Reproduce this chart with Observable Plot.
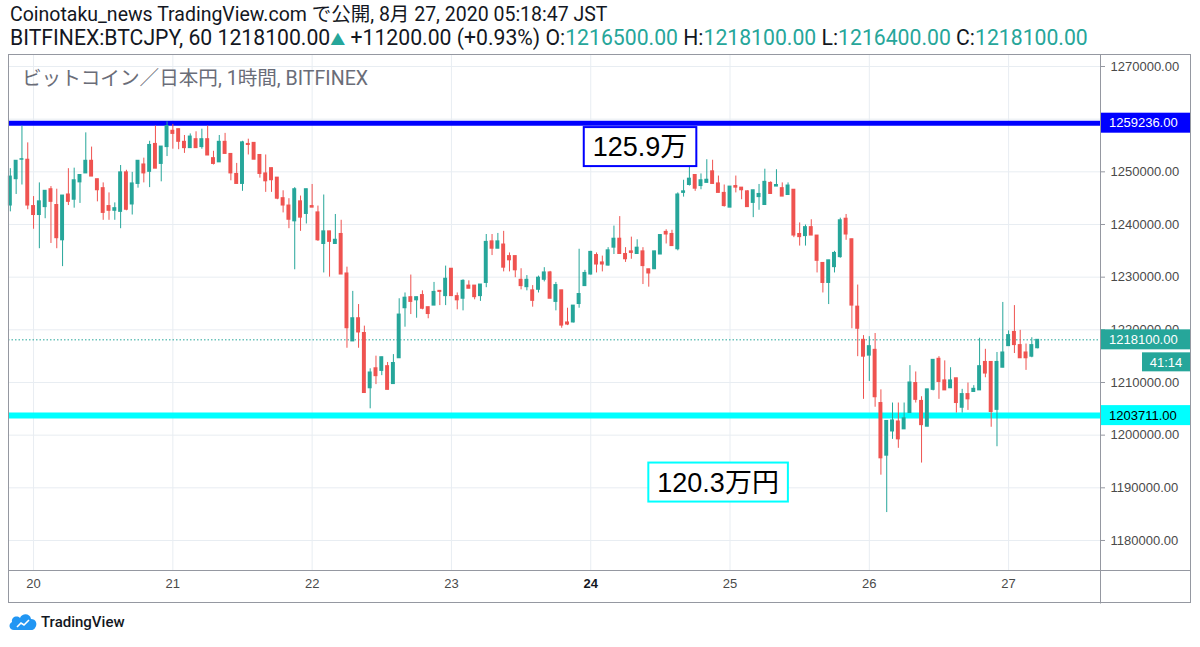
<!DOCTYPE html>
<html><head><meta charset="utf-8">
<script src="https://cdn.jsdelivr.net/npm/d3@7"></script>
<script src="https://cdn.jsdelivr.net/npm/@observablehq/plot@0.6"></script>
<style>
body{margin:0;background:#fff;}
#wrap{position:relative;width:1200px;height:647px;overflow:hidden;background:#fff}
#chart{position:absolute;left:0;top:0}
.hdr{position:absolute;left:10px;font-family:Roboto,"Noto Sans CJK JP",sans-serif;color:#131722;white-space:nowrap;line-height:24px}
.g{color:#26a69a}
#wm{position:absolute;left:22px;top:62px;font-family:Roboto,"Noto Sans CJK JP",sans-serif;font-size:19.6px;color:#6a6d78;white-space:nowrap}
#logo{position:absolute;left:8px;top:612px;display:flex;align-items:center;font-family:Roboto,"Noto Sans",sans-serif;font-size:15px;color:#131722;font-weight:500}
</style></head>
<body><div id="wrap">
<div id="chart"></div>
<div class="hdr" id="h1" style="top:3px;font-size:19.5px"></div>
<div class="hdr" id="h2" style="top:26px;font-size:21.2px"></div>
<div id="wm"></div>
<div id="logo"><svg width="30" height="20" viewBox="0 0 30 20"><path d="M6 18 C1 18 0 12 4 10 C3 5 9 3 12 6 C14 1 22 1 23 7 C28 7 30 12 27 16 C26 17.5 25 18 23 18 Z" fill="#2196f3"/><path d="M9 15 L13 11 L16 13 L21 8" stroke="#fff" stroke-width="1.6" fill="none"/></svg><span style="margin-left:3px">TradingView</span></div>
</div>
<script>
// ---- data (BTC/JPY hourly, JST wall-clock) ----
const firstCandle = Date.UTC(2020, 7, 19, 20);
const open = [
1243600,1248600,1252300,1252300,1243500,1241800,1243300,1246700,1243700,1237000,
1245700,1244700,1248000,1249700,1252100,1248600,1246900,1243500,1242600,1242400,
1249900,1243800,1247700,1251400,1250000,1255300,1251500,1254700,1257800,1258100,
1255700,1254500,1256200,1254700,1256200,1252600,1251800,1255700,1253400,1249600,
1247700,1255300,1255500,1253200,1249700,1250700,1248900,1245000,1243600,1240600,
1244400,1242000,1243500,1242300,1236300,1238700,1236300,1238200,1230700,1217800,
1222200,1219400,1208900,1212700,1212200,1213100,1209700,1214600,1224100,1226200,
1225600,1226600,1224300,1224600,1227400,1226400,1231600,1226400,1225900,1228400,
1228400,1226400,1228900,1236800,1235400,1236200,1234000,1234000,1229500,1228100,
1227500,1227600,1229500,1230900,1225300,1227500,1221400,1221400,1224900,1228300,
1230500,1234200,1232800,1232200,1235600,1237300,1234400,1234900,1234400,1234900,
1231500,1231500,1234300,1238600,1238200,1235300,1246000,1247500,1249400,1247300,
1247900,1250100,1247800,1246000,1243200,1247300,1247000,1246300,1244100,1245200,
1243700,1247900,1247200,1246900,1245600,1246600,1238200,1237800,1239500,1237900,
1232700,1228900,1231900,1233800,1241100,1237200,1224400,1218100,1215100,1216200,
1206100,1196100,1200700,1202600,1201100,1204200,1209900,1206500,1201600,1208600,
1214500,1210400,1208900,1210800,1205200,1207800,1208200,1208500,1213900,1213900,
1204800,1212800,1216900,1219600,1217100,1215700,1214900,1216500];
const high = [
1250600,1252100,1258700,1255500,1245300,1247900,1246400,1247200,1246700,1245500,
1250600,1250700,1249400,1257400,1254700,1248600,1247900,1246000,1244100,1251200,
1250300,1249900,1252100,1252600,1255800,1258700,1254800,1259500,1259000,1258100,
1256900,1257200,1257600,1258100,1258700,1253900,1256900,1257300,1253400,1251600,
1255800,1256200,1255500,1253200,1253200,1250700,1248900,1246400,1244900,1247000,
1245400,1246700,1247600,1243500,1245600,1238700,1241900,1240800,1231900,1227300,
1224800,1220700,1212600,1215000,1214800,1213800,1215300,1225900,1227000,1230400,
1226200,1227400,1224300,1229000,1227400,1232100,1231600,1227000,1229500,1229300,
1228400,1228600,1238100,1238100,1238300,1238700,1234600,1234000,1231600,1230300,
1228400,1230200,1231800,1231100,1229000,1227500,1224100,1224600,1235300,1231300,
1234900,1234600,1234000,1235600,1239700,1241500,1235600,1237600,1237100,1235600,
1231500,1234900,1238000,1239000,1238900,1246000,1248400,1252500,1249400,1249600,
1252300,1252200,1249200,1247500,1247200,1249200,1247000,1246400,1246500,1247600,
1250500,1248100,1250400,1247900,1247900,1246600,1240300,1239900,1240900,1237900,
1232700,1233200,1234900,1241200,1241900,1237200,1228500,1218900,1218700,1219300,
1208600,1202700,1206100,1206100,1206100,1213200,1212000,1207300,1208700,1214300,
1214900,1214100,1212800,1210800,1208700,1209900,1209400,1218400,1216300,1213900,
1215700,1225200,1219800,1224600,1219900,1217300,1218500,1218100];
const low = [
1242400,1245700,1247500,1242800,1239100,1235400,1241100,1236400,1235400,1232000,
1243600,1243100,1244000,1249700,1249100,1244300,1240800,1240800,1240800,1239200,
1242600,1241800,1246900,1247900,1247000,1250600,1248100,1252900,1254300,1254200,
1253500,1254500,1254500,1254300,1253100,1251300,1251800,1253400,1248300,1247700,
1246300,1253200,1252300,1248800,1246100,1246100,1244700,1242200,1239200,1231400,
1238700,1240100,1243200,1236800,1230800,1230000,1236300,1230500,1216500,1217800,
1216500,1208000,1205000,1209600,1211300,1208600,1209700,1214600,1220500,1222900,
1222200,1223800,1222100,1224600,1224600,1224600,1226400,1223800,1223600,1227800,
1225700,1225400,1228000,1234100,1235400,1231000,1231000,1229900,1227600,1227400,
1224300,1227000,1229100,1225900,1223600,1220300,1220800,1221300,1224100,1228300,
1230400,1230800,1231000,1232100,1234300,1234400,1232800,1233400,1234400,1228600,
1228100,1231500,1234300,1236300,1235900,1235000,1245200,1247300,1246300,1246600,
1247900,1247700,1246000,1243300,1243200,1246000,1244700,1243300,1241300,1242700,
1243700,1245700,1247200,1245300,1245600,1237500,1235900,1235900,1237900,1230800,
1227000,1224800,1230800,1233600,1237000,1220200,1214900,1206800,1210200,1205300,
1192400,1185300,1199200,1197500,1201100,1204200,1206100,1194700,1201600,1208400,
1206800,1208500,1208900,1204200,1204200,1204700,1208200,1208500,1210900,1201500,
1197800,1212800,1216900,1215500,1214600,1212300,1214700,1216400];
const close = [
1249100,1252100,1252400,1243600,1241800,1244400,1246400,1244300,1237400,1245500,
1244300,1248400,1249400,1252100,1249100,1246500,1242200,1242600,1243100,1249900,
1242800,1247800,1252100,1249700,1255100,1250600,1254800,1258700,1257200,1255700,
1254500,1256700,1254500,1256200,1253100,1251500,1255700,1253400,1249700,1247700,
1255600,1255100,1252300,1249600,1248200,1248400,1244900,1243600,1240900,1246700,
1241300,1246700,1243200,1237000,1238700,1236700,1237100,1230500,1220300,1222200,
1219500,1208000,1211900,1211200,1214800,1208600,1213700,1222900,1226100,1225300,
1226200,1224000,1223000,1227200,1227200,1229700,1226400,1225600,1229300,1227800,
1226200,1228600,1236700,1235400,1236800,1231800,1233200,1231300,1228300,1229500,
1225500,1229900,1230900,1225900,1228500,1220800,1221000,1224600,1226800,1230800,
1234800,1232400,1232400,1235100,1237300,1234400,1233400,1234600,1235600,1232100,
1230700,1234900,1238000,1238100,1235900,1245700,1246300,1248700,1246800,1248400,
1248500,1247700,1246000,1243500,1247200,1247000,1246500,1243300,1246500,1245800,
1248100,1245800,1247500,1245300,1247400,1237900,1237600,1239500,1237900,1233100,
1228900,1233200,1234600,1240800,1238100,1224600,1220200,1214900,1216900,1207200,
1195600,1202700,1202800,1199200,1203200,1210000,1206700,1201900,1208700,1214300,
1210100,1208500,1210400,1206100,1207800,1206800,1208800,1213100,1211700,1204400,
1213900,1215700,1219000,1217100,1214600,1214600,1217100,1218100];

const priceTicks = [1180000,1190000,1200000,1210000,1220000,1230000,1240000,1250000,1260000,1270000];
const hiddenPriceLabels = [1260000]; // covered by the resistance label in the reference
const dayTicks = [20,21,22,23,24,25,26,27];
const boldDay = 24;
const resistance = 1259236;
const support = 1203711;
const lastPrice = 1218100;
const countdown = "41:14";
const annTexts = ["125.9万", "120.3万円"];
const annTimes = [Date.UTC(2020,7,24,8,35), Date.UTC(2020,7,24,22,2)];
const annPrices = [1254700, 1191000];
const annColors = ["#0000ff", "#00ffff"];

const headerLine1 = "Coinotaku_news TradingView.com で公開, 8月 27, 2020 05:18:47 JST";
const symbolText = "BITFINEX:BTCJPY, 60";
const changeText = "+11200.00 (+0.93%)";
const watermark = "ビットコイン／日本円, 1時間, BITFINEX";

// ---- header ----
const f2 = d3.format(".2f");
const n = close.length - 1;
document.getElementById("h1").textContent = headerLine1;
document.getElementById("h2").innerHTML =
  `${symbolText} ${f2(close[n])}<span class="g" style="font-size:15px">▲</span> ${changeText} O:<span class="g">${f2(open[n])}</span> H:<span class="g">${f2(high[n])}</span> L:<span class="g">${f2(low[n])}</span> C:<span class="g">${f2(close[n])}</span>`;
document.getElementById("wm").textContent = watermark;

// ---- chart ----
const HOUR = 3600e3;
const candles = open.map((o, i) => ({t: new Date(firstCandle + i * HOUR), o, h: high[i], l: low[i], c: close[i], up: close[i] >= o}));
const col = d => d.up ? "#26a69a" : "#ef5350";
const dayDates = dayTicks.map(d => new Date(Date.UTC(2020, 7, d)));
const AXIS_FONT = "'Liberation Sans', Arial, sans-serif";

const frameMark = (index, scales, values, dim) => {
  const L = dim.marginLeft, R = dim.width - dim.marginRight, T = dim.marginTop, B = dim.height - dim.marginBottom;
  const g = d3.create("svg:g").attr("fill", "none").attr("stroke", "#9598a1");
  g.append("rect").attr("x", L + 0.5).attr("y", T - 0.5).attr("width", R + 90 - L).attr("height", B + 33 - T);
  g.append("line").attr("x1", R + 0.5).attr("x2", R + 0.5).attr("y1", T - 0.5).attr("y2", B + 33.5);
  g.append("line").attr("x1", L).attr("x2", R + 90).attr("y1", B + 0.5).attr("y2", B + 0.5);
  return g.node();
};

const labelMark = (index, scales, values, dim) => {
  const R = dim.width - dim.marginRight;
  const g = d3.create("svg:g").attr("font-family", AXIS_FONT).attr("font-size", 13).attr("text-anchor", "start");
  const labs = [
    {v: resistance, bg: "#0000ff", fg: "#fff"},
    {v: lastPrice, bg: "#26a69a", fg: "#fff"},
    {v: support, bg: "#00ffff", fg: "#000"}
  ];
  for (const l of labs) {
    const y = scales.y(l.v);
    g.append("rect").attr("x", R + 1).attr("y", y - 10).attr("width", 89).attr("height", 20).attr("fill", l.bg);
    g.append("text").attr("x", R + 9).attr("y", y).attr("dy", "0.36em").attr("text-anchor", "start").attr("fill", l.fg).text(f2(l.v));
    if (l.v === lastPrice) {
      g.append("rect").attr("x", R + 42).attr("y", y + 13).attr("width", 48).attr("height", 19).attr("fill", l.bg);
      g.append("text").attr("x", R + 66).attr("y", y + 22.5).attr("dy", "0.36em").attr("text-anchor", "middle").attr("fill", "#fff").text(countdown);
    }
  }
  return g.node();
};

const annMark = (index, scales, values, dim) => {
  const ctx = document.createElement("canvas").getContext("2d");
  const font = "27px 'Liberation Sans', 'Noto Sans CJK JP', sans-serif";
  ctx.font = font;
  const g = d3.create("svg:g");
  annTexts.forEach((t, i) => {
    const x = scales.x(new Date(annTimes[i])), y = scales.y(annPrices[i]);
    const w = ctx.measureText(t).width + 18, h = 39;
    g.append("rect").attr("x", x - w / 2).attr("y", y - h / 2).attr("width", w).attr("height", h)
      .attr("fill", "#fff").attr("stroke", annColors[i]).attr("stroke-width", 2);
    g.append("text").attr("x", x).attr("y", y).attr("dy", "0.36em").attr("text-anchor", "middle")
      .attr("font-family", "'Liberation Sans', 'Noto Sans CJK JP', sans-serif").attr("font-size", 27).attr("fill", "#000").text(t);
  });
  return g.node();
};

const chart = Plot.plot({
  width: 1200, height: 647,
  marginTop: 55, marginLeft: 8, marginRight: 100, marginBottom: 77,
  x: {type: "utc", domain: [new Date(Date.UTC(2020,7,19,19,41)), new Date(Date.UTC(2020,7,27,15,50))], axis: null},
  y: {domain: [1174300, 1272090], axis: null},
  style: {fontFamily: AXIS_FONT, fontSize: "13px", background: "transparent", overflow: "visible"},
  marks: [
    Plot.gridY(priceTicks, {stroke: "#e8edf2", strokeOpacity: 1}),
    Plot.gridX(dayDates, {stroke: "#e8edf2", strokeOpacity: 1}),
    Plot.ruleY([lastPrice], {stroke: "#26a69a", strokeDasharray: "1.5,2", strokeWidth: 1}),
    Plot.ruleY([resistance], {stroke: "#0000ff", strokeWidth: 5}),
    Plot.ruleY([support], {stroke: "#00ffff", strokeWidth: 6}),
    Plot.ruleX(candles, {x: "t", y1: "l", y2: "h", stroke: col, strokeWidth: 1}),
    Plot.rect(candles, {
      x1: d => new Date(+d.t - 0.34 * HOUR), x2: d => new Date(+d.t + 0.34 * HOUR),
      y1: d => Math.min(d.o, d.c), y2: d => Math.max(d.o, d.c),
      fill: col, insetTop: -0.5, insetBottom: -0.5
    }),
    Plot.axisY({ticks: priceTicks.filter(v => !hiddenPriceLabels.includes(v)), anchor: "right", tickSize: 4, tickPadding: 6, tickFormat: f2, label: null, fill: "#4a4a4a", stroke: "#9598a1", fontSize: 13}),
    Plot.text(dayDates.filter(d => d.getUTCDate() !== boldDay), {x: d => d, frameAnchor: "bottom", dy: 17, text: d => String(d.getUTCDate()), fill: "#4a4a4a", fontSize: 13}),
    Plot.text(dayDates.filter(d => d.getUTCDate() === boldDay), {x: d => d, frameAnchor: "bottom", dy: 17, text: d => String(d.getUTCDate()), fill: "#131722", fontSize: 13, fontWeight: "bold"}),
    frameMark,
    annMark,
    labelMark
  ]
});
document.getElementById("chart").appendChild(chart);
</script>
</body></html>
